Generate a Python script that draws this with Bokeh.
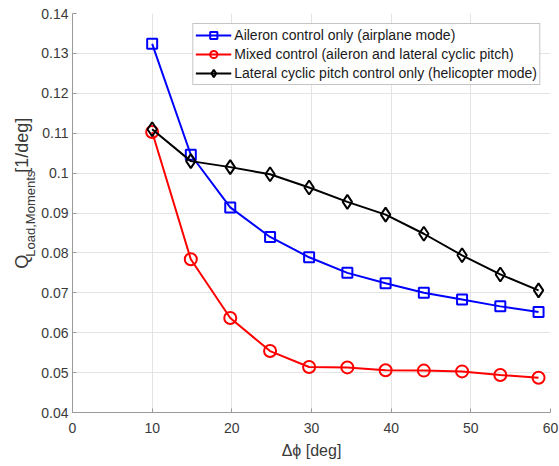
from bokeh.plotting import figure
from bokeh.models import FixedTicker, Range1d
from bokeh.layouts import row
from bokeh.core.properties import value
from bokeh.embed import file_html
from bokeh.resources import INLINE
import math

# ---- data ----
dphi = [10, 14.85, 19.8, 24.8, 29.7, 34.5, 39.3, 44.1, 48.9, 53.7, 58.5]
aileron = [0.1324, 0.1046, 0.0914, 0.0840, 0.0789, 0.0750, 0.0724, 0.0700, 0.0683, 0.0666, 0.0652]
mixed = [0.1103, 0.0784, 0.0637, 0.0554, 0.0514, 0.0513, 0.0506, 0.0505, 0.0503, 0.0494, 0.0487]
lateral = [0.1110, 0.1030, 0.1015, 0.0997, 0.0964, 0.0928, 0.0896, 0.0848, 0.0794, 0.0746, 0.0706]

xticks = [0, 10, 20, 30, 40, 50, 60]
yticks = [0.04, 0.05, 0.06, 0.07, 0.08, 0.09, 0.10, 0.11, 0.12, 0.13, 0.14]
ytick_labels = ["0.04", "0.05", "0.06", "0.07", "0.08", "0.09", "0.1", "0.11", "0.12", "0.13", "0.14"]

names = ["Aileron control only (airplane mode)",
         "Mixed control (aileron and lateral cyclic pitch)",
         "Lateral cyclic pitch control only (helicopter mode)"]

ylabel_parts = ["Q", "Load,Moments", "[1/deg]"]

FONT = "Liberation Sans"
AX = "#9a9a9a"
TXT = "#3a3a3a"
LW = 38  # width of the y-label strip
H = 466

# ---- y label strip (separate small figure so the rotated text is not clipped) ----
lab = figure(width=LW, height=H, output_backend="svg", toolbar_location=None,
             x_range=Range1d(0, LW), y_range=Range1d(0, H),
             min_border=0, min_border_left=0, min_border_right=0,
             min_border_top=0, min_border_bottom=0)
lab.axis.visible = False
lab.grid.visible = False
lab.outline_line_color = None
lab.border_fill_color = "white"
lab.background_fill_color = "white"
tkw = dict(angle=math.pi / 2, text_align="left", text_baseline="alphabetic",
           text_font=value(FONT), text_color=TXT)
lab.text(x=[21.7], y=[H - 298], text=[ylabel_parts[0]], text_font_size="18px", **tkw)
lab.text(x=[29.5], y=[H - 284], text=[ylabel_parts[1]], text_font_size="13px", **tkw)
lab.text(x=[21.7], y=[H - 186], text=[ylabel_parts[2]], text_font_size="18px", **tkw)

# ---- main chart ----
p = figure(width=559 - LW, height=H, output_backend="svg", toolbar_location=None,
           x_range=Range1d(0, 60), y_range=Range1d(0.04, 0.14),
           min_border_left=72 - LW, min_border_right=9, min_border_top=13, min_border_bottom=54)
p.outline_line_color = None
p.background_fill_color = "white"
p.border_fill_color = "white"

p.xaxis.ticker = FixedTicker(ticks=xticks)
p.yaxis.ticker = FixedTicker(ticks=yticks)
p.yaxis.major_label_overrides = {t: l for t, l in zip(yticks, ytick_labels)}
for ax in (p.xaxis[0], p.yaxis[0]):
    ax.axis_line_color = AX
    ax.major_tick_line_color = AX
    ax.major_tick_in = 4
    ax.major_tick_out = 0
    ax.minor_tick_line_color = None
    ax.major_label_text_font = FONT
    ax.major_label_text_font_size = "14px"
    ax.major_label_text_color = TXT
    ax.axis_label_text_font = FONT
    ax.axis_label_text_font_size = "16px"
    ax.axis_label_text_font_style = "normal"
    ax.axis_label_text_color = TXT
p.yaxis.major_label_standoff = 4
p.xaxis.major_label_standoff = 10
p.xaxis.axis_label = "Δϕ [deg]"
p.xaxis.axis_label_standoff = 6

p.xgrid.ticker = FixedTicker(ticks=xticks)
p.ygrid.ticker = FixedTicker(ticks=yticks)
for g in (p.xgrid[0], p.ygrid[0]):
    g.grid_line_color = "#e4e4e4"
    g.grid_line_width = 1

styles = [("#0000ff", "square", 10, aileron),
          ("#ff0000", "circle", 12, mixed),
          ("#000000", "diamond", 14, lateral)]
for (col, mk, sz, ys), nm in zip(styles, names):
    p.line(dphi, ys, line_color=col, line_width=2, legend_label=nm)
    p.scatter(dphi, ys, marker=mk, size=sz, line_color=col, line_width=2,
              fill_alpha=0, legend_label=nm)

lg = p.legend[0]
lg.location = "top_right"
lg.margin = 10
lg.padding = 2
lg.spacing = 1
lg.glyph_width = 36
lg.glyph_height = 18
lg.label_height = 18
lg.label_standoff = 3
lg.label_text_font = FONT
lg.label_text_font_size = "14px"
lg.label_text_color = "#1a1a1a"
lg.border_line_color = "#8c8c8c"
lg.border_line_width = 1
lg.background_fill_color = "white"
lg.background_fill_alpha = 1

layout = row(lab, p, spacing=0)
open("out.html", "w").write(file_html(layout, INLINE))
